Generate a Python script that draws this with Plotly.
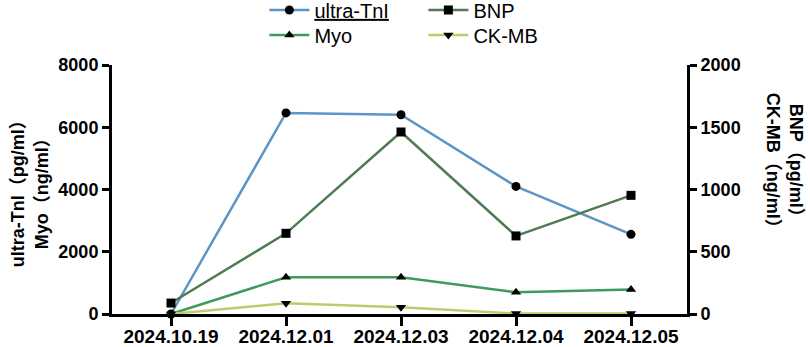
import plotly.graph_objects as go

dates = ["2024.10.19", "2024.12.01", "2024.12.03", "2024.12.04", "2024.12.05"]
ultra_tni = [0, 6460, 6400, 4100, 2560]
myo = [0, 1180, 1180, 700, 790]
bnp = [88, 648, 1462, 627, 953]
ckmb = [0, 86, 54, 4, 4]

left_ticks = [0, 2000, 4000, 6000, 8000]
right_ticks = [0, 500, 1000, 1500, 2000]

FONT = "Liberation Sans, Arial, Noto Sans CJK SC, sans-serif"
x_idx = list(range(len(dates)))

fig = go.Figure()
mk = dict(color="black", size=9)
fig.add_trace(go.Scatter(x=x_idx, y=ultra_tni, name="<u>ultra-TnI</u>", mode="lines+markers",
                         line=dict(color="#5d95c6", width=2.5), marker=dict(symbol="circle", **mk),
                         cliponaxis=False, legend="legend"))
fig.add_trace(go.Scatter(x=x_idx, y=bnp, name="BNP", mode="lines+markers", yaxis="y2",
                         line=dict(color="#4f7a52", width=2.5), marker=dict(symbol="square", **mk),
                         cliponaxis=False, legend="legend"))
fig.add_trace(go.Scatter(x=x_idx, y=myo, name="Myo", mode="lines+markers",
                         line=dict(color="#3f9a5c", width=2.5), marker=dict(symbol="triangle-up", **mk),
                         cliponaxis=False, legend="legend2"))
fig.add_trace(go.Scatter(x=x_idx, y=ckmb, name="CK-MB", mode="lines+markers", yaxis="y2",
                         line=dict(color="#c3c96a", width=2.5), marker=dict(symbol="triangle-down", **mk),
                         cliponaxis=False, legend="legend2"))

axis_common = dict(showline=True, linecolor="black", linewidth=3, ticks="outside",
                   tickwidth=3, tickcolor="black", showgrid=False, zeroline=False)
yfont = dict(family=FONT, size=18, color="black", weight="bold")
xfont = dict(family=FONT, size=19, color="black", weight="bold")

leg_common = dict(orientation="h", x=0.265, xanchor="left", yanchor="top", yref="paper",
                  entrywidth=104, entrywidthmode="pixels", itemwidth=40,
                  font=dict(family=FONT, size=20, color="black"),
                  bgcolor="rgba(0,0,0,0)", tracegroupgap=0)

fig.update_layout(
    width=810, height=347,
    margin=dict(l=112, r=123, t=65, b=33, autoexpand=False),
    paper_bgcolor="white", plot_bgcolor="white",
    font=dict(family=FONT, color="black"),
    xaxis=dict(range=[-0.513, 4.487], tickmode="array", tickvals=x_idx, ticktext=dates,
               ticklen=9, ticklabelstandoff=-6, tickfont=xfont, **axis_common),
    yaxis=dict(range=[0, 8000], tickvals=left_ticks, ticklen=7, tickfont=yfont, **axis_common),
    yaxis2=dict(range=[0, 2000], tickvals=right_ticks, overlaying="y", side="right",
                ticklen=7, tickfont=yfont, **axis_common),
    legend=dict(y=1.299, **leg_common),
    legend2=dict(y=1.199, **leg_common),
    showlegend=True,
    annotations=[
        dict(text="<b>ultra-TnI（pg/ml）<br>Myo（ng/ml）</b>", xref="paper", yref="paper",
             x=-0.143, y=0.5, xanchor="center", yanchor="middle", textangle=-90, showarrow=False,
             font=dict(family=FONT, size=18, color="black")),
        dict(text="<b>BNP（pg/ml）<br>CK-MB（ng/ml）</b>", xref="paper", yref="paper",
             x=1.17, y=0.6, xanchor="center", yanchor="middle", textangle=90, showarrow=False,
             font=dict(family=FONT, size=18, color="black")),
    ],
)

fig.write_html("out.html", config={"displayModeBar": False},
               post_script="document.body.style.margin='0px';")
